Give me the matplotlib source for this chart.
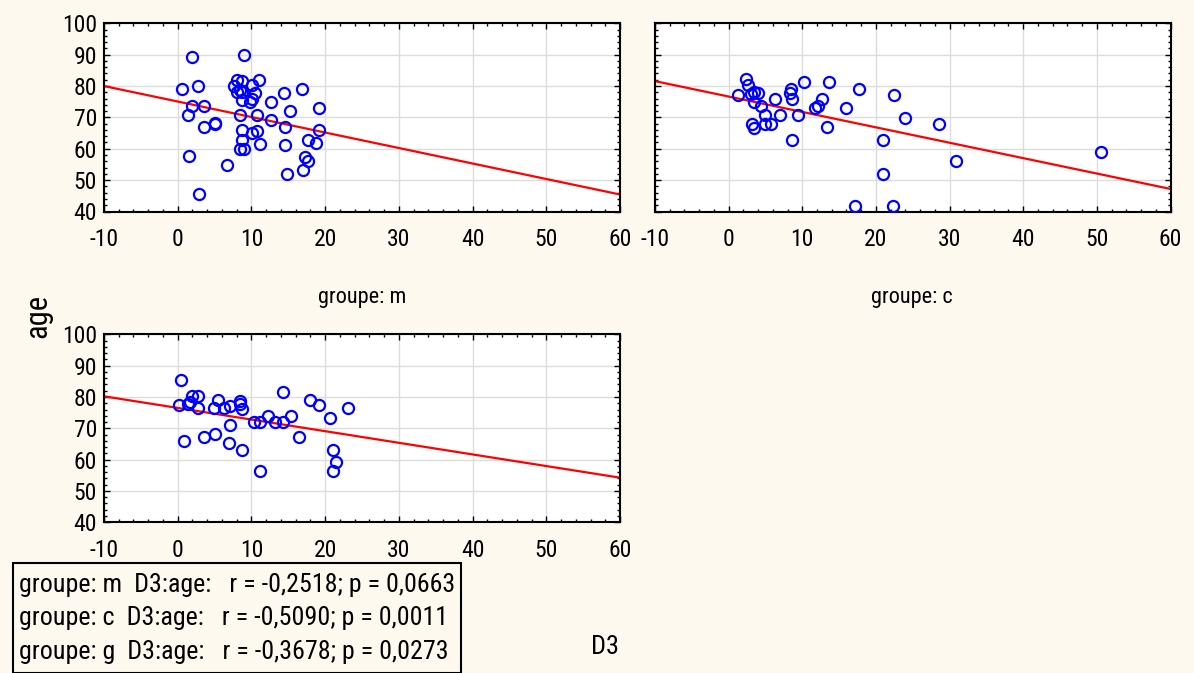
import numpy as np
import matplotlib.pyplot as plt
from matplotlib.patches import Rectangle
from matplotlib.ticker import MultipleLocator

plt.rcParams['font.family'] = ['Roboto Condensed', 'DejaVu Sans']
plt.rcParams['axes.unicode_minus'] = False

# groupe m: D3 vs age
m_d3 = [2.0, 9.05, 0.6, 2.8, 2.0, 3.5, 1.4, 3.5, 5.1, 5.1, 1.5, 6.7, 2.9,
        7.6, 8.05, 8.7, 8.05, 8.4, 8.7, 8.7, 9.8, 10.1, 10.45, 10.1, 11.0,
        8.5, 10.7, 12.7, 12.7, 8.7, 8.7, 8.5, 8.96, 10.1, 10.7, 11.2,
        14.4, 15.2, 14.6, 14.6, 14.8, 16.8, 19.1, 19.1, 17.7, 18.8, 17.2,
        17.7, 17.0]
m_age = [89.1, 89.9, 78.9, 80.1, 73.7, 73.7, 70.9, 67.0, 68.0, 68.3, 57.8,
         54.9, 45.6, 80.0, 81.9, 81.6, 78.1, 78.7, 78.1, 75.7, 74.9, 80.3,
         77.8, 76.0, 81.9, 70.9, 70.9, 74.9, 69.1, 65.9, 62.9, 60.0, 60.0,
         65.0, 65.7, 61.6, 77.8, 72.1, 67.0, 61.1, 52.0, 79.0, 73.1, 65.9,
         62.9, 61.8, 57.4, 56.0, 53.1]

# groupe c
c_d3 = [2.34, 2.66, 1.3, 3.0, 3.4, 4.0, 3.4, 4.4, 5.0, 3.2, 3.5, 5.0, 5.8,
        6.3, 7.0, 8.4, 8.3, 8.65, 9.4, 8.65, 10.2, 11.7, 12.2, 12.7, 13.6,
        13.3, 16.0, 17.7, 21.0, 22.4, 24.0, 21.0, 17.1, 22.3, 28.6, 30.9,
        50.5]
c_age = [82.1, 80.3, 77.1, 77.6, 78.1, 77.8, 74.9, 73.7, 70.9, 68.0, 66.7,
         68.0, 68.0, 76.0, 70.9, 79.2, 77.8, 76.0, 70.9, 62.9, 81.2, 73.1,
         73.6, 76.0, 81.2, 67.0, 73.1, 79.0, 62.9, 77.1, 69.8, 52.0, 41.8,
         41.8, 67.9, 56.0, 58.9]

# groupe g
g_d3 = [0.4, 0.2, 1.35, 1.6, 1.9, 2.8, 2.8, 0.8, 3.5, 5.1, 4.9, 5.5, 6.3,
        7.1, 6.9, 7.1, 8.4, 8.5, 8.7, 8.7, 10.3, 11.2, 12.3, 13.2, 14.3,
        14.3, 15.4, 11.1, 16.4, 17.9, 19.1, 20.6, 23.1, 21.1, 21.5, 21.1]
g_age = [85.4, 77.4, 77.8, 78.5, 80.2, 80.2, 76.4, 65.9, 67.1, 68.2, 76.4,
         79.1, 76.4, 77.2, 65.3, 71.1, 78.8, 77.8, 76.2, 63.1, 72.1, 72.1,
         73.9, 72.1, 72.1, 81.5, 73.9, 56.3, 67.1, 79.1, 77.4, 73.4, 76.4,
         63.1, 59.1, 56.3]

# fitted lines (age at D3 = 0, slope)
m_fit = (75.06, -0.494)
c_fit = (76.65, -0.491)
g_fit = (76.5, -0.371)

stats = ["groupe: m  D3:age:   r = -0,2518; p = 0,0663",
         "groupe: c  D3:age:   r = -0,5090; p = 0,0011",
         "groupe: g  D3:age:   r = -0,3678; p = 0,0273"]

bg = '#fdf9ef'
fig = plt.figure(figsize=(11.94, 6.73), dpi=100, facecolor=bg)

W, H = 1194, 673
def add_ax(x0, x1, y0, y1):
    return fig.add_axes([x0 / W, 1 - y1 / H, (x1 - x0) / W, (y1 - y0) / H])

ax1 = add_ax(104, 620, 23.3, 211.5)
ax2 = add_ax(655, 1170.5, 23.3, 211.5)
ax3 = add_ax(104, 620, 334.3, 522.3)

xl = np.array([-10, 60])
for ax, xs, ys, fit in [(ax1, m_d3, m_age, m_fit),
                        (ax2, c_d3, c_age, c_fit),
                        (ax3, g_d3, g_age, g_fit)]:
    ax.set_facecolor('white')
    ax.plot(xl, fit[0] + fit[1] * xl, color='red', lw=1.6, zorder=2)
    ax.plot(xs, ys, 'o', mfc='none', mec='blue', ms=8, mew=1.6, zorder=3)
    ax.set_xlim(-10, 60)
    ax.set_ylim(40, 100)
    ax.xaxis.set_major_locator(MultipleLocator(10))
    ax.yaxis.set_major_locator(MultipleLocator(10))
    ax.xaxis.set_minor_locator(MultipleLocator(2))
    ax.yaxis.set_minor_locator(MultipleLocator(2))
    ax.grid(True, which='major', color='#dcdcdc', lw=1, zorder=0)
    ax.set_axisbelow(True)
    ax.tick_params(which='both', direction='in', top=True, right=True,
                   labelsize=17)
    ax.tick_params(which='major', length=4, width=1)
    ax.tick_params(which='minor', length=2.5, width=1)
    ax.tick_params(axis='x', which='major', pad=12)
    ax.tick_params(axis='y', which='major', pad=5)
    for s in ax.spines.values():
        s.set_linewidth(1.5)

ax2.tick_params(labelleft=False)

fig.text(362 / W, 1 - 298 / H, 'groupe: m', ha='center', va='center', fontsize=16)
fig.text(912 / W, 1 - 298 / H, 'groupe: c', ha='center', va='center', fontsize=16)
fig.text(38 / W, 1 - 316 / H, 'age', ha='center', va='center', rotation=90, fontsize=22)
fig.text(605 / W, 1 - 647 / H, 'D3', ha='center', va='center', fontsize=19)

fig.patches.append(Rectangle((13 / W, 0), (461 - 13) / W, 1 - 563 / H,
                             transform=fig.transFigure, fill=False,
                             edgecolor='black', lw=1.5))
for i, s in enumerate(stats):
    fig.text(19 / W, 1 - (585 + 33.5 * i) / H, s, ha='left', va='center', fontsize=18.7)

fig.savefig('out.png', dpi=100, facecolor=bg)
